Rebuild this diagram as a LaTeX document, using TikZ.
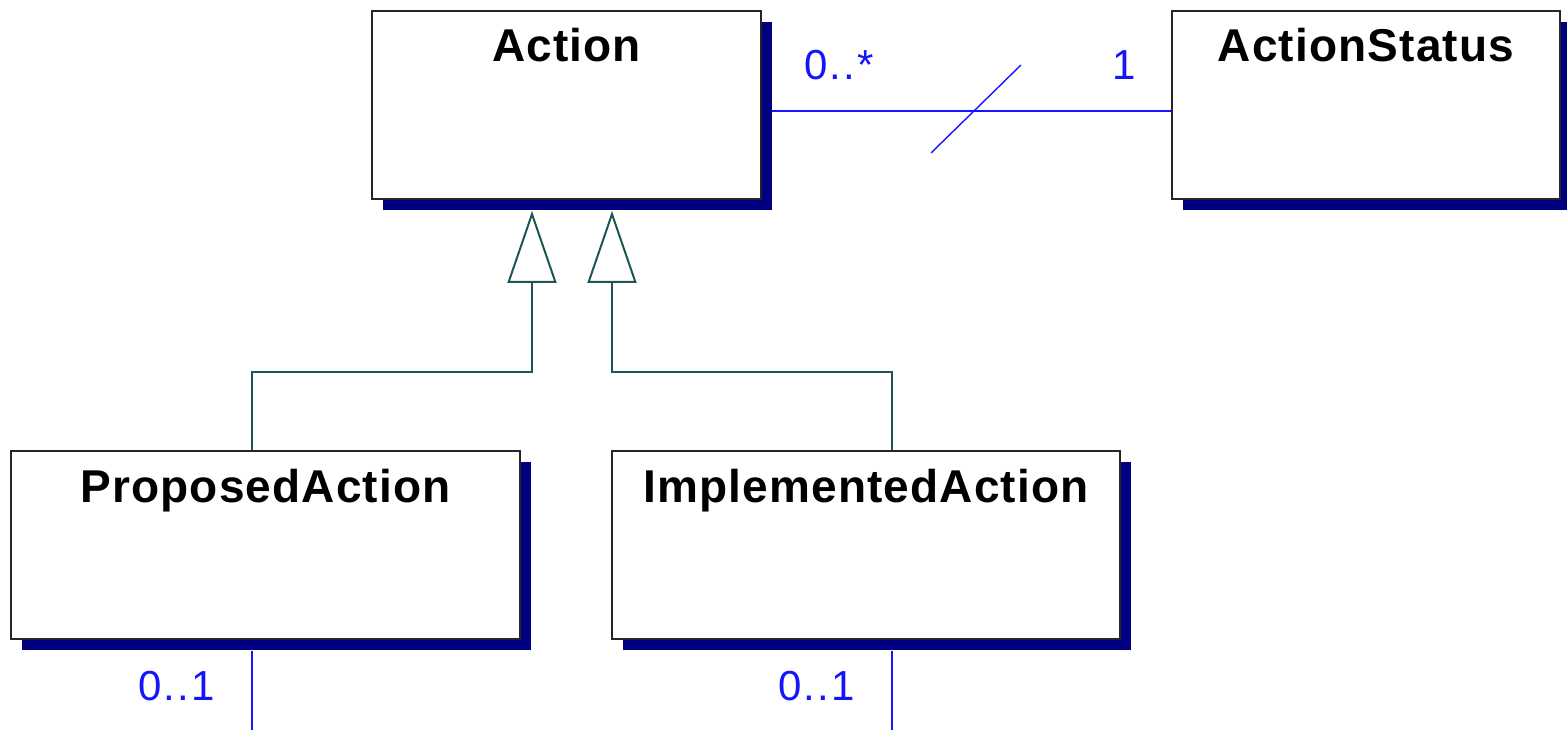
\documentclass[tikz,border=0pt]{standalone}
\usepackage{fontspec}
\setmainfont{Liberation Sans}
\newfontfamily\titlefont[LetterSpace=2.5]{Liberation Sans}
\newfontfamily\multfont[LetterSpace=5]{Liberation Sans}
\usetikzlibrary{arrows.meta,shadows}
\definecolor{navyc}{RGB}{0,0,128}
\definecolor{genc}{RGB}{30,85,85}
\definecolor{assocc}{RGB}{20,20,255}
\tikzset{
  cls/.style={draw=black!85, line width=2pt, fill=white, inner sep=0pt,
    minimum height=188pt,
    general shadow={fill=navyc, shadow xshift=11pt, shadow yshift=-11pt}},
  clstitle/.style={anchor=base, inner sep=0pt, font=\titlefont\fontsize{46}{50}\selectfont\bfseries},
  gen/.style={draw=genc, line width=2pt, -{Triangle[open, length=72pt, width=49pt, line width=2pt]}},
  assoc/.style={draw=assocc, line width=1.8pt},
  mult/.style={anchor=base west, inner sep=0pt, text=assocc, font=\multfont\fontsize{42}{46}\selectfont}
}
\begin{document}
\begin{tikzpicture}[x=1pt,y=1pt]
\useasboundingbox (0,0) rectangle (1567,-730);
% classes
\node[cls, minimum width=389pt] (action) at (566.5,-105) {};
\node[cls, minimum width=388pt] (status) at (1366,-105) {};
\node[cls, minimum width=509pt] (prop) at (265.5,-545) {};
\node[cls, minimum width=508pt] (impl) at (866,-545) {};
% titles
\node[clstitle] (actionT) at ([yshift=-52pt]action.north) {Action};
\node[clstitle] (statusT) at ([yshift=-52pt]status.north) {ActionStatus};
\node[clstitle] (propT) at ([yshift=-52pt]prop.north) {ProposedAction};
\node[clstitle] (implT) at ([yshift=-52pt]impl.north) {ImplementedAction};
% generalization
\coordinate (t1) at ([xshift=-34.5pt,yshift=-11pt]action.south);
\coordinate (t2) at ([xshift=45.5pt,yshift=-11pt]action.south);
\draw[gen] ([xshift=-13.5pt]prop.north) |- ([yshift=-161pt]t1) -- (t1);
\draw[gen] ([xshift=26pt]impl.north) |- ([yshift=-161pt]t2) -- (t2);
% association
\draw[assoc] ([xshift=10pt,yshift=-6pt]action.east) -- ([yshift=-6pt]status.west);
\coordinate (s1) at (931,-153);
\coordinate (s2) at (1021,-65);
\draw[assoc, line width=1.4pt] (s1) -- (s2);
\node[mult] (m1) at (804,-80) {0..*};
\node[mult] (m2) at (1112,-80) {1};
% lower associations
\coordinate (e1) at (252,-730);
\coordinate (e2) at (892,-730);
\draw[assoc] ([xshift=-13.5pt,yshift=-11pt]prop.south) -- (e1);
\draw[assoc] ([xshift=26pt,yshift=-11pt]impl.south) -- (e2);
\node[mult] (m3) at (138,-700) {0..1};
\node[mult] (m4) at (778,-700) {0..1};
\end{tikzpicture}
\end{document}
